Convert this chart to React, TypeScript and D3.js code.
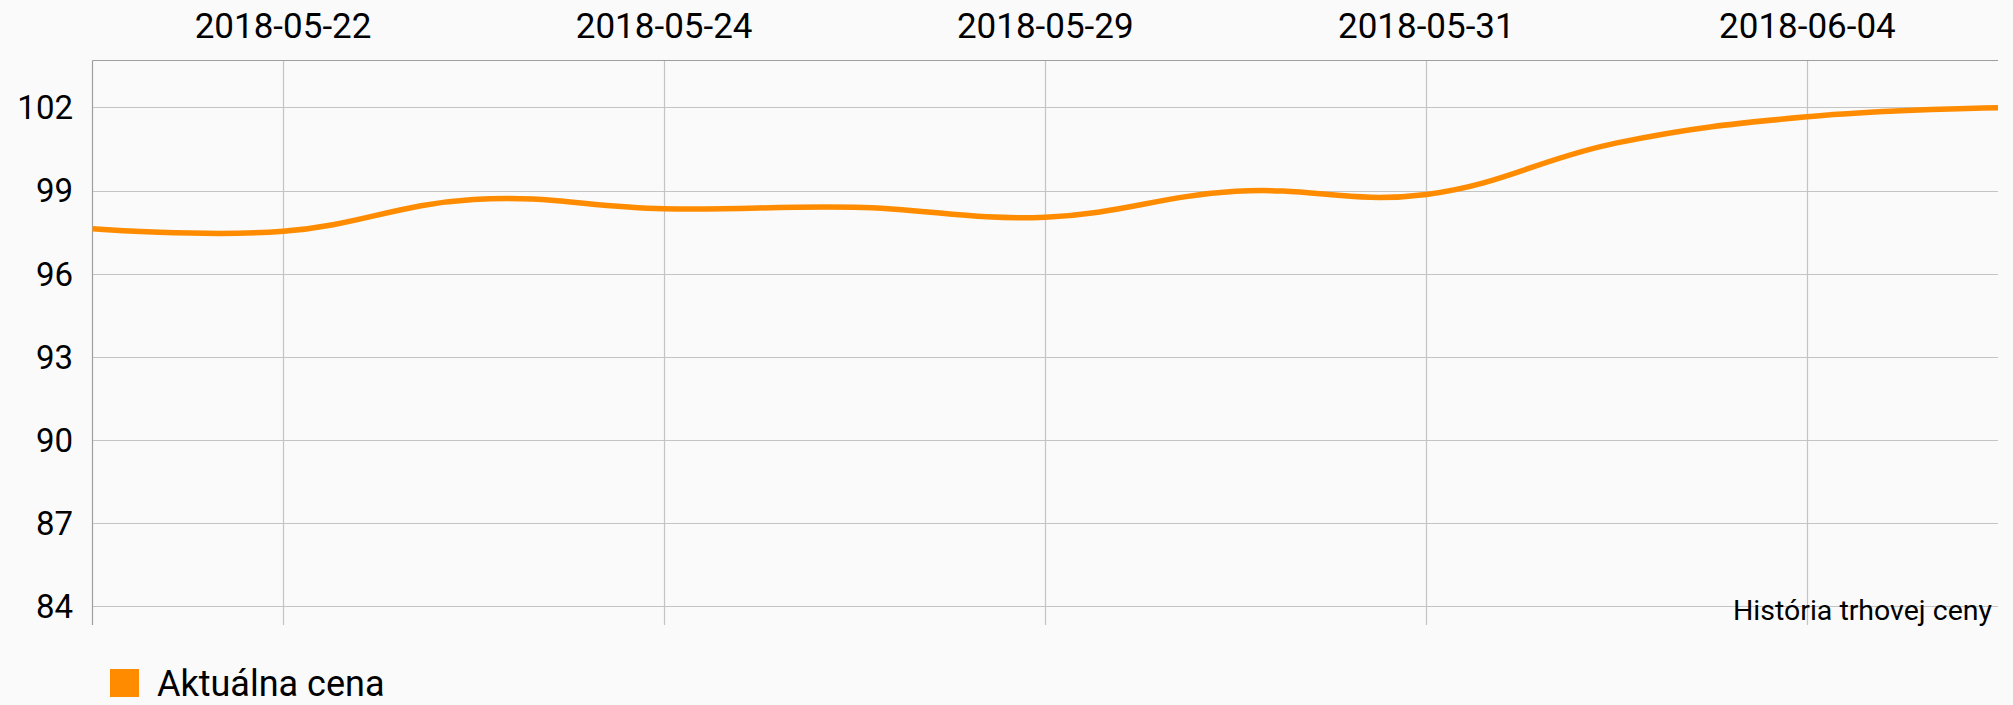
import React, { useEffect, useRef } from 'react';
import * as d3 from 'd3';

// trading days shown on the chart
const dates = [
  '2018-05-21', '2018-05-22', '2018-05-23', '2018-05-24', '2018-05-25',
  '2018-05-29', '2018-05-30', '2018-05-31', '2018-06-01', '2018-06-04', '2018-06-05',
];
const prices = [97.62, 97.53, 98.68, 98.34, 98.4, 98.04, 98.97, 98.86, 100.72, 101.66, 101.99];
const yTicks = [84, 87, 90, 93, 96, 99, 102];
const xLabelIdx = [1, 3, 5, 7, 9];
const seriesName = 'Aktuálna cena';
const description = 'História trhovej ceny';

const W = 2013;
const H = 705;
const ORANGE = '#ff8c00';

const App: React.FC = () => {
  const ref = useRef<SVGSVGElement | null>(null);

  useEffect(() => {
    if (!ref.current) return;
    const svg = d3.select(ref.current);
    svg.selectAll('*').remove();

    const left = 92.5;
    const right = 1998;
    const top = 60.5;
    const bottom = 625;

    svg.append('rect').attr('width', W).attr('height', H).attr('fill', '#fafafa');

    const x = d3.scaleLinear().domain([0, dates.length - 1]).range([left, right]);
    const y = d3.scaleLinear().domain([83.33, 103.69]).range([bottom, top]);

    const g = svg.append('g').style('font-family', 'Roboto, sans-serif');

    // horizontal grid
    g.selectAll('.hgrid')
      .data(yTicks)
      .enter().append('line')
      .attr('x1', left).attr('x2', right)
      .attr('y1', d => Math.round(y(d)) + 0.5).attr('y2', d => Math.round(y(d)) + 0.5)
      .attr('stroke', '#c4c4c4')
      .attr('stroke-width', 1.2);

    // vertical grid
    g.selectAll('.vgrid')
      .data(xLabelIdx)
      .enter().append('line')
      .attr('x1', d => Math.round(x(d)) + 0.5).attr('x2', d => Math.round(x(d)) + 0.5)
      .attr('y1', top).attr('y2', bottom)
      .attr('stroke', '#c4c4c4')
      .attr('stroke-width', 1.2);

    // axis lines (top and left)
    g.append('line')
      .attr('x1', left).attr('x2', right).attr('y1', top).attr('y2', top)
      .attr('stroke', '#9e9e9e').attr('stroke-width', 1.2);
    g.append('line')
      .attr('x1', left).attr('x2', left).attr('y1', top).attr('y2', bottom)
      .attr('stroke', '#9e9e9e').attr('stroke-width', 1.2);

    // y labels
    g.selectAll('.ylab')
      .data(yTicks)
      .enter().append('text')
      .attr('x', 73)
      .attr('y', d => y(d))
      .attr('dy', '0.36em')
      .attr('text-anchor', 'end')
      .attr('font-size', 33)
      .attr('fill', '#000')
      .text(d => d);

    // x labels on top
    g.selectAll('.xlab')
      .data(xLabelIdx)
      .enter().append('text')
      .attr('x', d => x(d))
      .attr('y', 38)
      .attr('text-anchor', 'middle')
      .attr('font-size', 35)
      .attr('fill', '#000')
      .text(d => dates[d]);

    // price line
    const line = d3.line<number>()
      .x((_, i) => x(i))
      .y(d => y(d))
      .curve(d3.curveCardinal.tension(-0.2));

    g.append('path')
      .datum(prices)
      .attr('d', line)
      .attr('fill', 'none')
      .attr('stroke', ORANGE)
      .attr('stroke-width', 5.5);

    // description bottom right
    g.append('text')
      .attr('x', 1992)
      .attr('y', 620)
      .attr('text-anchor', 'end')
      .attr('font-size', 28.5)
      .attr('fill', '#000')
      .text(description);

    // legend
    g.append('rect')
      .attr('x', 110).attr('y', 669)
      .attr('width', 29).attr('height', 28)
      .attr('fill', ORANGE);
    g.append('text')
      .attr('x', 157)
      .attr('y', 696)
      .attr('font-size', 36)
      .attr('fill', '#000')
      .text(seriesName);
  }, []);

  return (
    <svg
      ref={ref}
      width={W}
      height={H}
      style={{ position: 'absolute', left: 0, top: 0, display: 'block' }}
    />
  );
};

export default App;
